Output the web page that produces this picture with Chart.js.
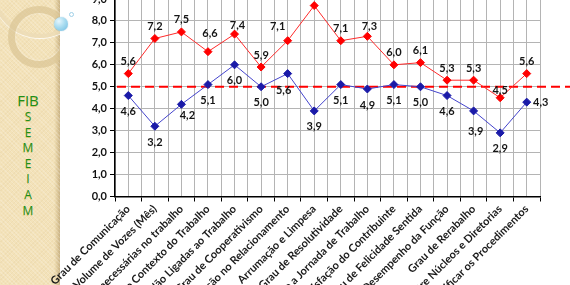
<!DOCTYPE html>
<html>
<head>
<meta charset="utf-8">
<script src="https://cdn.jsdelivr.net/npm/chart.js@4.4.1/dist/chart.umd.min.js"></script>
<style>
  html, body { margin: 0; padding: 0; width: 570px; height: 285px; overflow: hidden; background: #fff; }
  #panel {
    position: absolute; left: 0; top: 0; width: 60px; height: 285px; overflow: hidden;
    background-color: #f3e2b9;
    background-image:
      repeating-linear-gradient(45deg, rgba(255,255,255,0.18) 0 1px, transparent 1px 3px),
      repeating-linear-gradient(-45deg, rgba(200,170,110,0.10) 0 1px, transparent 1px 3px),
      linear-gradient(to right, rgba(0,0,0,0) 0, rgba(0,0,0,0) 54px, rgba(170,140,80,0.25) 57px, rgba(150,120,70,0.45) 60px);
  }
  .ring { position: absolute; border-radius: 50%; box-sizing: border-box; }
  #ring1 { left: 8px; top: 6px; width: 62px; height: 62px; border: 7px solid rgba(218,196,148,0.7); box-shadow: inset 0 0 2px rgba(255,255,255,0.7); }
  #ring2 { left: -8px; top: -58px; width: 96px; height: 96px; border: 4px solid rgba(236,220,182,0.8); box-shadow: 0 1px 1px rgba(255,255,255,0.9); }
  #bubble {
    position: absolute; left: 54px; top: 17px; width: 14px; height: 14px; border-radius: 50%;
    background: radial-gradient(circle at 35% 30%, #e6f6fd 0, #a9dcf0 45%, #6fbbe0 100%);
    box-shadow: 0 0 1px rgba(60,130,170,0.6);
  }
  #dot { position: absolute; left: 69px; top: 12px; width: 5px; height: 5px; border-radius: 50%; border: 1px solid #9fd0e8; box-sizing: border-box; }
  #title { position: absolute; left: 0; width: 56px; top: 91px; text-align: center; color: #1d8f1d;
           font-family: 'Open Sans', Lato, sans-serif; line-height: 15.6px; font-size: 12px;
           text-shadow: 0 1px 0 rgba(190,170,40,0.5); }
  #title .big { font-size: 15px; line-height: 18px; display: block; }
  #wrap { position: absolute; left: 0; top: -20px; width: 570px; height: 320px; }
</style>
</head>
<body>
<div id="panel">
  <div class="ring" id="ring2"></div>
  <div class="ring" id="ring1"></div>
  <div id="title"><span class="big">FIB</span>S<br>E<br>M<br>E<br>I<br>A<br>M</div>
</div>
<div id="bubble"></div>
<div id="dot"></div>
<div id="wrap"><canvas id="c" width="570" height="320"></canvas></div>
<script>
// Indicadores avaliados
const categories = [
  'Grau de Comunicação',
  'Volume de Vozes (Mês)',
  'Tarefas Desnecessárias no trabalho',
  'Compreensão do Contexto do Trabalho',
  'Atividades Não Ligadas ao Trabalho',
  'Grau de Cooperativismo',
  'Satisfação no Relacionamento',
  'Arrumação e Limpesa',
  'Grau de Resolutividade',
  'Disposição durante a Jornada de Trabalho',
  'Grau de Satisfação do Contribuinte',
  'Grau de Felicidade Sentida',
  'Desempenho da Função',
  'Grau de Rerabalho',
  'Integração entre Núcleos e Diretorias',
  'Necessidade de Simplificar os Procedimentos'
];

// Notas por indicador
const seriesRed  = [5.6, 7.2, 7.5, 6.6, 7.4, 5.9, 7.1, 8.7, 7.1, 7.3, 6.0, 6.1, 5.3, 5.3, 4.5, 5.6];
const seriesBlue = [4.6, 3.2, 4.2, 5.1, 6.0, 5.0, 5.6, 3.9, 5.1, 4.9, 5.1, 5.0, 4.6, 3.9, 2.9, 4.3];

// Linha de referência
const referenceValue = 5.0;

// Eixo Y
const yMin = 0, yMax = 9, yStep = 1;

const fmt = v => v.toFixed(1).replace('.', ',');

// Deslocamentos de rótulos individuais [dx, dy]
const labelPlacement = [
  { dy: -12, shift: { 3: [2, -18], 4: [3, -9], 6: [-10, -14], 14: [0, -7], 9: [2, -10] } },
  { dy: 16,  shift: { 2: [6, 11], 13: [2, 21], 15: [14, 0], 6: [-4, 17] } }
];

const valueLabels = {
  id: 'valueLabels',
  afterDatasetsDraw(chart) {
    const ctx = chart.ctx;
    ctx.save();
    ctx.font = 'bold 11px Lato, sans-serif';
    ctx.fillStyle = '#151515';
    ctx.textAlign = 'center';
    ctx.textBaseline = 'middle';
    chart.data.datasets.forEach((ds, di) => {
      const meta = chart.getDatasetMeta(di);
      const cfg = labelPlacement[di];
      meta.data.forEach((pt, i) => {
        const s = cfg.shift[i] || [0, cfg.dy];
        ctx.fillText(fmt(ds.data[i]), pt.x + s[0], pt.y + s[1]);
      });
    });
    ctx.restore();
  }
};

const referenceLine = {
  id: 'referenceLine',
  beforeDatasetsDraw(chart) {
    const ctx = chart.ctx;
    const y = chart.scales.y.getPixelForValue(referenceValue);
    ctx.save();
    ctx.strokeStyle = '#ff0000';
    ctx.lineWidth = 2;
    ctx.setLineDash([9, 5]);
    ctx.beginPath();
    ctx.moveTo(chart.chartArea.left + 2, y);
    ctx.lineTo(chart.width, y);
    ctx.stroke();
    ctx.restore();
  }
};

const gridColor = '#b4b4b4';

new Chart(document.getElementById('c'), {
  type: 'line',
  data: {
    labels: categories,
    datasets: [
      {
        label: 'Série 1',
        data: seriesRed,
        borderColor: '#ff2a2a',
        borderWidth: 1,
        pointStyle: 'rectRot',
        pointRadius: 4,
        pointBackgroundColor: '#ff0000',
        pointBorderColor: '#ff0000',
        tension: 0
      },
      {
        label: 'Série 2',
        data: seriesBlue,
        borderColor: '#4444cc',
        borderWidth: 1,
        pointStyle: 'rectRot',
        pointRadius: 4,
        pointBackgroundColor: '#1a1aa8',
        pointBorderColor: '#1a1aa8',
        tension: 0
      }
    ]
  },
  options: {
    responsive: false,
    animation: false,
    events: [],
    layout: { padding: { left: 55, right: 30, top: 19, bottom: 0 } },
    plugins: { legend: { display: false }, tooltip: { enabled: false } },
    scales: {
      x: {
        offset: true,
        grid: { offset: true, color: gridColor, lineWidth: 1, tickLength: 5, tickColor: '#000' },
        border: { color: '#000', width: 1.5 },
        ticks: {
          autoSkip: false, maxRotation: 45, minRotation: 45, padding: 1,
          color: '#1a1a1a', font: { family: 'Lato', weight: 'bold', size: 11 }
        },
        afterFit: s => { s.height = 103.5; }
      },
      x2: {
        type: 'category',
        labels: categories,
        position: 'top',
        offset: true,
        grid: { offset: false, color: gridColor, lineWidth: 1, drawTicks: false },
        border: { display: false },
        ticks: { display: false },
        afterFit: s => { s.height = 0; }
      },
      y: {
        min: yMin, max: yMax,
        grid: { color: gridColor, lineWidth: 1, tickLength: 5, tickColor: '#000' },
        border: { color: '#000', width: 1.5 },
        ticks: {
          stepSize: yStep, padding: 3, color: '#111',
          font: { family: 'Lato', weight: 'bold', size: 11 },
          callback: v => fmt(v)
        },
        afterFit: s => { s.width = 60; }
      }
    }
  },
  plugins: [referenceLine, valueLabels]
});
</script>
</body>
</html>
